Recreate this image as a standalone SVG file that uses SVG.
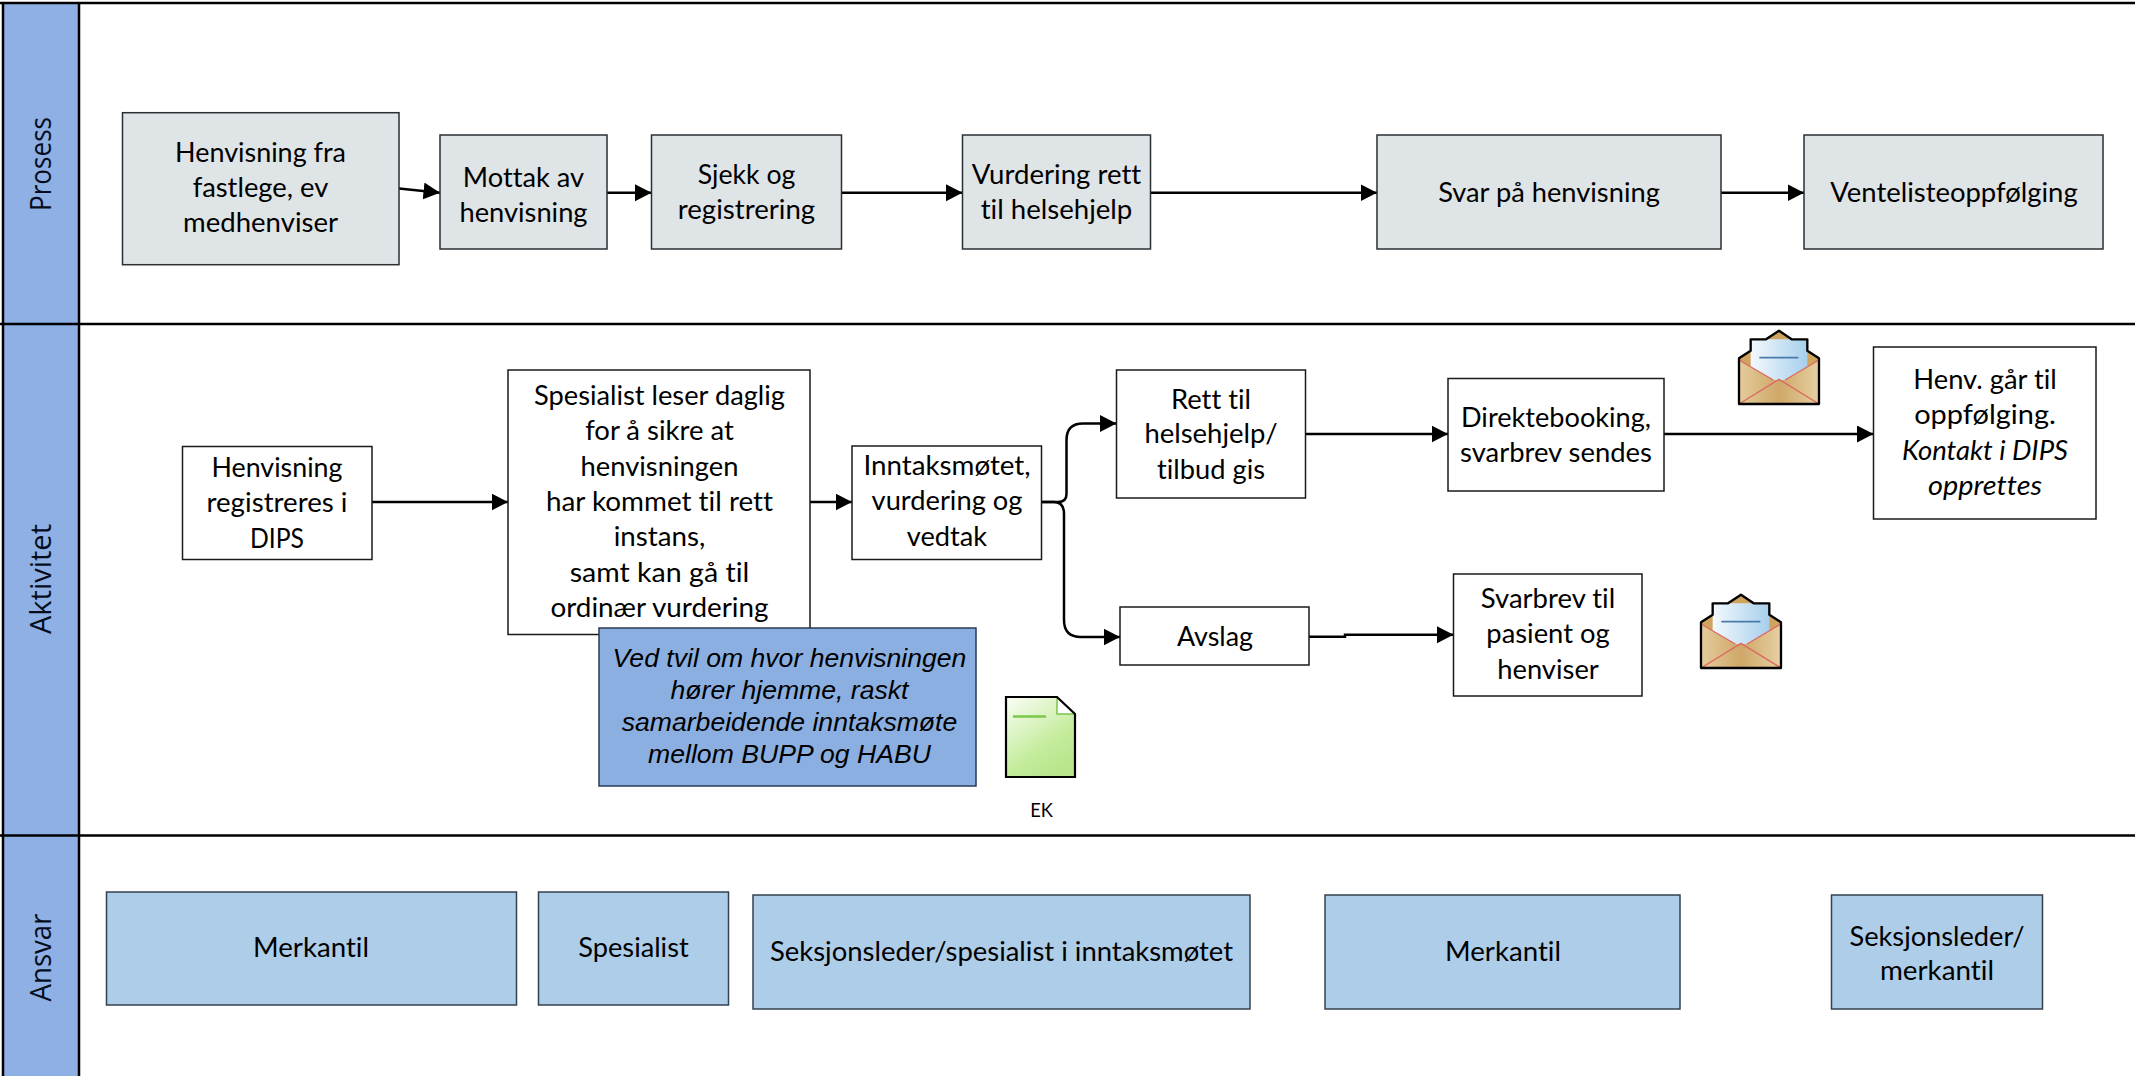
<svg xmlns="http://www.w3.org/2000/svg" width="2135" height="1076" viewBox="0 0 2135 1076" xmlns:xlink="http://www.w3.org/1999/xlink">
<style>
text{fill:#000;font-variant-ligatures:none}
.t{font-family:Lato,"Liberation Sans",sans-serif;font-size:27px;text-anchor:middle}
.i{font-style:italic}
.l{font-family:"Open Sans","Liberation Sans",sans-serif;font-size:29.5px;text-anchor:middle;fill:#050d1c}
.b{font-family:"Liberation Sans",Arial,sans-serif;font-size:26.6px;font-style:italic;text-anchor:middle}
.g{fill:#dfe4e6;stroke:#2a2f33;stroke-width:1.5}
.w{fill:#fff;stroke:#1a1a1a;stroke-width:1.5}
.a{fill:#aecde9;stroke:#33414f;stroke-width:1.5}
.n{fill:#8cafe1;stroke:#2a3a55;stroke-width:1.5}
.h{fill:#8eb0e4}
.ln{stroke:#000;stroke-width:2.5;fill:none}
.c{stroke:#000;stroke-width:2.5;fill:none;marker-end:url(#ah)}
</style>
<defs>
<marker id="ah" markerUnits="userSpaceOnUse" markerWidth="18" markerHeight="18" refX="16.5" refY="8.5" orient="auto"><path d="M0,0 L16.5,8.5 L0,17 Z" fill="#000"/></marker>
<linearGradient id="paper" x1="0" x2="1" y1="0" y2="0"><stop offset="0" stop-color="#f4f9fd"/><stop offset="1" stop-color="#a6cfec"/></linearGradient>
<linearGradient id="env" x1="0" x2="1" y1="0" y2="0"><stop offset="0" stop-color="#e4cc9c"/><stop offset=".5" stop-color="#cfa768"/><stop offset="1" stop-color="#e6d0a2"/></linearGradient>
<linearGradient id="doc" x1="0" x2=".6" y1="0" y2="1"><stop offset="0" stop-color="#fbfef7"/><stop offset=".7" stop-color="#c4ec9c"/><stop offset="1" stop-color="#b9e68d"/></linearGradient>
<g id="envelope" transform="scale(.3333)">
<path d="M0,85 L35,62 V28 H81 L120,2 L158,28 H205 V62 L240,85 V222 H0 Z" fill="#cfa45f"/>
<path d="M35,28 H205 V115 L138,150 H103 L35,115 Z" fill="url(#paper)"/>
<path d="M0,90 L103,150 H138 L240,90 V222 H0 Z" fill="url(#env)"/>
<path d="M61,83 H178" stroke="#4a7aab" stroke-width="5" fill="none"/>
<path d="M0,90 L103,150 M240,90 L138,150 M0,222 L120,148 L240,222" stroke="#dd6a62" stroke-width="4" fill="none"/>
<path d="M0,85 L35,62 V28 H81 L120,2 L158,28 H205 V62 L240,85 V222 H0 Z" fill="none" stroke="#000" stroke-width="7" stroke-linejoin="round"/>
</g>
</defs>
<rect width="2135" height="1076" fill="#fff"/>
<g id="lanes">
<rect class="h" x="3" y="3" width="76" height="1073"/>
<path class="ln" d="M0,3 H2135 M0,324 H2135 M0,835.5 H2135 M3,3 V1076 M79,3 V1076"/>
<text class="l" transform="translate(51,164) rotate(-90)" textLength="94" lengthAdjust="spacingAndGlyphs">Prosess</text>
<text class="l" transform="translate(51,579) rotate(-90)" textLength="110" lengthAdjust="spacingAndGlyphs">Aktivitet</text>
<text class="l" transform="translate(51,957.5) rotate(-90)" textLength="88" lengthAdjust="spacingAndGlyphs">Ansvar</text>
</g>
<g id="connectors">
<path class="c" d="M399,188.5 L440,192.7"/>
<path class="c" d="M607,192.7 H651.5"/>
<path class="c" d="M841.5,192.7 H962.5"/>
<path class="c" d="M1150.5,192.7 H1377"/>
<path class="c" d="M1721,192.7 H1804"/>
<path class="c" d="M372,502 H508"/>
<path class="c" d="M810,502 H852"/>
<path class="c" d="M1041.5,502 H1058 Q1066.5,502 1066.5,494 V440 Q1066.5,423.5 1083,423.5 H1116.5"/>
<path class="c" d="M1041.5,502 H1054 Q1064,502 1064,514 V620 Q1064,637 1081,637 H1120"/>
<path class="c" d="M1306,434 H1448"/>
<path class="c" d="M1309,636.7 H1345 V634.7 H1453.5"/>
<path class="c" d="M1664,434 H1873.5"/>
</g>
<g id="n-henvisning-fra"><rect class="g" x="122.5" y="112.7" width="276.5" height="152"/>
<text class="t" x="260.5" y="161.5" textLength="170.8" lengthAdjust="spacingAndGlyphs">Henvisning fra</text>
<text class="t" x="260.5" y="197" textLength="135.7" lengthAdjust="spacingAndGlyphs">fastlege, ev</text>
<text class="t" x="260.5" y="232" textLength="155" lengthAdjust="spacingAndGlyphs">medhenviser</text></g>
<g id="n-mottak"><rect class="g" x="440" y="135" width="167" height="114"/>
<text class="t" x="523.5" y="187" textLength="121.4" lengthAdjust="spacingAndGlyphs">Mottak av</text>
<text class="t" x="523.5" y="222" textLength="128.1" lengthAdjust="spacingAndGlyphs">henvisning</text></g>
<g id="n-sjekk"><rect class="g" x="651.5" y="135" width="190" height="114"/>
<text class="t" x="746.5" y="184" textLength="97.6" lengthAdjust="spacingAndGlyphs">Sjekk og</text>
<text class="t" x="746.5" y="219" textLength="137.5" lengthAdjust="spacingAndGlyphs">registrering</text></g>
<g id="n-vurdering"><rect class="g" x="962.5" y="135" width="188" height="114"/>
<text class="t" x="1056.5" y="184" textLength="169.4" lengthAdjust="spacingAndGlyphs">Vurdering rett</text>
<text class="t" x="1056.5" y="219" textLength="151.7" lengthAdjust="spacingAndGlyphs">til helsehjelp</text></g>
<g id="n-svar"><rect class="g" x="1377" y="135" width="344" height="114"/>
<text class="t" x="1549" y="202" textLength="221.7" lengthAdjust="spacingAndGlyphs">Svar på henvisning</text></g>
<g id="n-vente"><rect class="g" x="1804" y="135" width="299" height="114"/>
<text class="t" x="1954" y="202" textLength="247.4" lengthAdjust="spacingAndGlyphs">Ventelisteoppfølging</text></g>
<g id="n-registreres"><rect class="w" x="182.5" y="446.5" width="189.5" height="113"/>
<text class="t" x="277" y="477" textLength="131" lengthAdjust="spacingAndGlyphs">Henvisning</text>
<text class="t" x="277" y="512" textLength="141" lengthAdjust="spacingAndGlyphs">registreres i</text>
<text class="t" x="277" y="547.5" textLength="54" lengthAdjust="spacingAndGlyphs">DIPS</text></g>
<g id="n-spesialist"><rect class="w" x="508" y="370" width="302" height="264.5"/>
<text class="t" x="659.5" y="405" textLength="251" lengthAdjust="spacingAndGlyphs">Spesialist leser daglig</text>
<text class="t" x="659.5" y="440.3" textLength="148.7" lengthAdjust="spacingAndGlyphs">for å sikre at</text>
<text class="t" x="659.5" y="475.6" textLength="158" lengthAdjust="spacingAndGlyphs">henvisningen</text>
<text class="t" x="659.5" y="511" textLength="227.2" lengthAdjust="spacingAndGlyphs">har kommet til rett</text>
<text class="t" x="659.5" y="546.2" textLength="91.6" lengthAdjust="spacingAndGlyphs">instans,</text>
<text class="t" x="659.5" y="581.5" textLength="179.6" lengthAdjust="spacingAndGlyphs">samt kan gå til</text>
<text class="t" x="659.5" y="617" textLength="218" lengthAdjust="spacingAndGlyphs">ordinær vurdering</text></g>
<g id="n-inntak"><rect class="w" x="852" y="446" width="189.5" height="113.5"/>
<text class="t" x="947" y="475" textLength="167.2" lengthAdjust="spacingAndGlyphs">Inntaksmøtet,</text>
<text class="t" x="947" y="510.3" textLength="150.8" lengthAdjust="spacingAndGlyphs">vurdering og</text>
<text class="t" x="947" y="545.5" textLength="80.4" lengthAdjust="spacingAndGlyphs">vedtak</text></g>
<g id="n-rett"><rect class="w" x="1116.5" y="370" width="189" height="128"/>
<text class="t" x="1211" y="408.5" textLength="80" lengthAdjust="spacingAndGlyphs">Rett til</text>
<text class="t" x="1211" y="443" textLength="133.2" lengthAdjust="spacingAndGlyphs">helsehjelp/</text>
<text class="t" x="1211" y="478.5" textLength="108" lengthAdjust="spacingAndGlyphs">tilbud gis</text></g>
<g id="n-avslag"><rect class="w" x="1120" y="607" width="189" height="58"/>
<text class="t" x="1215" y="645.5" textLength="76.2" lengthAdjust="spacingAndGlyphs">Avslag</text></g>
<g id="n-direkte"><rect class="w" x="1448" y="378.5" width="216" height="112.5"/>
<text class="t" x="1556" y="427" textLength="190" lengthAdjust="spacingAndGlyphs">Direktebooking,</text>
<text class="t" x="1556" y="462" textLength="191.9" lengthAdjust="spacingAndGlyphs">svarbrev sendes</text></g>
<g id="n-svarbrev"><rect class="w" x="1453.5" y="574" width="188.5" height="122"/>
<text class="t" x="1548" y="607.5" textLength="134.3" lengthAdjust="spacingAndGlyphs">Svarbrev til</text>
<text class="t" x="1548" y="643" textLength="123.3" lengthAdjust="spacingAndGlyphs">pasient og</text>
<text class="t" x="1548" y="678.5" textLength="101.6" lengthAdjust="spacingAndGlyphs">henviser</text></g>
<g id="n-henv-gar"><rect class="w" x="1873.5" y="347" width="222.5" height="172"/>
<text class="t" x="1985" y="389" textLength="143.4" lengthAdjust="spacingAndGlyphs">Henv. går til</text>
<text class="t" x="1985" y="424" textLength="141.6" lengthAdjust="spacingAndGlyphs">oppfølging.</text>
<text class="t i" x="1985" y="459.5" textLength="166" lengthAdjust="spacingAndGlyphs">Kontakt i DIPS</text>
<text class="t i" x="1985" y="495" textLength="114" lengthAdjust="spacingAndGlyphs">opprettes</text></g>
<g id="n-tvil"><rect class="n" x="599" y="628" width="377" height="158"/>
<text class="b" x="789.5" y="667">Ved tvil om hvor henvisningen</text>
<text class="b" x="789.5" y="699">hører hjemme, raskt</text>
<text class="b" x="789.5" y="731">samarbeidende inntaksmøte</text>
<text class="b" x="789.5" y="763">mellom BUPP og HABU</text></g>
<g id="n-ek">
<path d="M1006,697 H1057 L1075,714 V777 H1006 Z" fill="url(#doc)"/>
<path d="M1057,697 L1075,714 H1057 Z" fill="#fff"/>
<path d="M1057,698 V714 H1075" fill="none" stroke="#7cc24a" stroke-width="1.5"/>
<path d="M1013,716.5 H1046" stroke="#7cc84a" stroke-width="2.5"/>
<path d="M1006,697 H1057 L1075,714 V777 H1006 Z" fill="none" stroke="#000" stroke-width="2.2"/>
<text class="t" style="font-size:18.5px" x="1041.5" y="817" textLength="22.7" lengthAdjust="spacingAndGlyphs">EK</text></g>
<g id="n-env1"><use xlink:href="#envelope" href="#envelope" transform="translate(1739,330)"/></g>
<g id="n-env2"><use xlink:href="#envelope" href="#envelope" transform="translate(1701,594)"/></g>
<g id="n-a-merkantil1"><rect class="a" x="106.5" y="892" width="410" height="113"/>
<text class="t" x="311" y="957" textLength="115.9" lengthAdjust="spacingAndGlyphs">Merkantil</text></g>
<g id="n-a-spesialist"><rect class="a" x="538.5" y="892" width="190" height="113"/>
<text class="t" x="633.5" y="957" textLength="110.4" lengthAdjust="spacingAndGlyphs">Spesialist</text></g>
<g id="n-a-seksjon"><rect class="a" x="753" y="895" width="497" height="114"/>
<text class="t" x="1001.5" y="961" textLength="463" lengthAdjust="spacingAndGlyphs">Seksjonsleder/spesialist i inntaksmøtet</text></g>
<g id="n-a-merkantil2"><rect class="a" x="1325" y="895" width="355" height="114"/>
<text class="t" x="1503" y="961" textLength="115.9" lengthAdjust="spacingAndGlyphs">Merkantil</text></g>
<g id="n-a-seks-merk"><rect class="a" x="1831.5" y="895" width="211" height="114"/>
<text class="t" x="1937" y="946" textLength="175" lengthAdjust="spacingAndGlyphs">Seksjonsleder/</text>
<text class="t" x="1937" y="979.5" textLength="114.2" lengthAdjust="spacingAndGlyphs">merkantil</text></g>
</svg>
